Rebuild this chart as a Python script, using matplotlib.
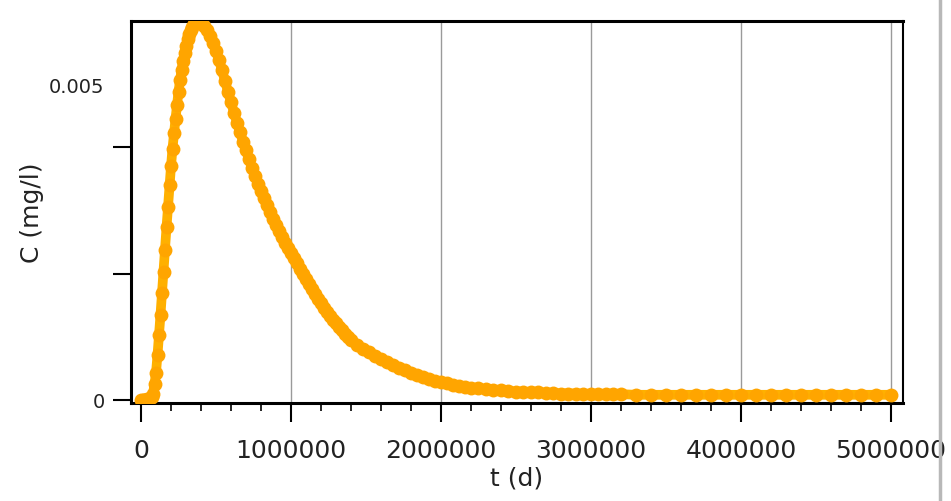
import numpy as np
import matplotlib
matplotlib.use('Agg')
import matplotlib.pyplot as plt
from matplotlib.lines import Line2D
from matplotlib.ticker import MultipleLocator

# breakthrough curve: time in thousands of days, concentration in mg/l
t_kdays = [0, 10, 20, 30, 40, 50, 60, 70, 80, 90,
           100, 110, 120, 130, 140, 150, 160, 170, 180, 190,
           200, 210, 220, 230, 240, 250, 260, 270, 280, 290,
           300, 310, 320, 330, 340, 350, 360, 370, 380, 390,
           400, 420, 440, 460, 480, 500, 520, 540, 560, 580,
           600, 620, 640, 660, 680, 700, 720, 740, 760, 780,
           800, 820, 840, 860, 880, 900, 920, 940, 960, 980,
           1000, 1020, 1040, 1060, 1080, 1100, 1120, 1140, 1160, 1180,
           1200, 1220, 1240, 1260, 1280, 1300, 1320, 1340, 1360, 1380,
           1400, 1440, 1480, 1520, 1560, 1600, 1640, 1680, 1720, 1760,
           1800, 1840, 1880, 1920, 1960, 2000, 2040, 2080, 2120, 2160,
           2200, 2250, 2300, 2350, 2400, 2450, 2500, 2550, 2600, 2650,
           2700, 2750, 2800, 2850, 2900, 2950, 3000, 3050, 3100, 3150,
           3200, 3300, 3400, 3500, 3600, 3700, 3800, 3900, 4000, 4100,
           4200, 4300, 4400, 4500, 4600, 4700, 4800, 4900, 5000]
conc = [0.0, 0.0, 0.0, 0.0, 0.00001, 0.00002, 0.00003, 0.00005, 0.0001, 0.00025,
        0.00043, 0.00071, 0.00103, 0.00135, 0.00170, 0.00203, 0.00238, 0.00273, 0.00306, 0.00340,
        0.00370, 0.00398, 0.00422, 0.00445, 0.00467, 0.00488, 0.00506, 0.00522, 0.00537, 0.00550,
        0.00561, 0.00571, 0.00579, 0.00586, 0.00591, 0.00595, 0.00598, 0.00600, 0.00600, 0.00599,
        0.00597, 0.00592, 0.00585, 0.00576, 0.00565, 0.00552, 0.00538, 0.00522, 0.00505, 0.00488,
        0.00471, 0.00455, 0.00439, 0.00424, 0.00409, 0.00395, 0.00381, 0.00367, 0.00354, 0.00342,
        0.00330, 0.00319, 0.00308, 0.00297, 0.00287, 0.00277, 0.00267, 0.00258, 0.00249, 0.00240,
        0.00232, 0.00224, 0.00216, 0.00207, 0.00199, 0.00191, 0.00183, 0.00175, 0.00167, 0.00160,
        0.00153, 0.00146, 0.00139, 0.00133, 0.00127, 0.00121, 0.00115, 0.00110, 0.00104, 0.00099,
        0.00095, 0.00087, 0.00081, 0.00075, 0.00070, 0.00064, 0.00060, 0.00055, 0.00051, 0.00047,
        0.00043, 0.00040, 0.00036, 0.00033, 0.00030, 0.00028, 0.00026, 0.00024, 0.00022, 0.00020,
        0.00019, 0.00018, 0.00017, 0.00016, 0.00015, 0.00014, 0.00013, 0.00013, 0.00012, 0.00012,
        0.00011, 0.00011, 0.00010, 0.00010, 0.00010, 0.00009, 0.00009, 0.00009, 0.00009, 0.00009,
        0.00009, 0.00008, 0.00008, 0.00008, 0.00008, 0.00008, 0.00008, 0.00008, 0.00008, 0.00008,
        0.00008, 0.00008, 0.00008, 0.00008, 0.00008, 0.00008, 0.00008, 0.00008, 0.00008]

x_ticks = [0, 1000000, 2000000, 3000000, 4000000, 5000000]
x_tick_labels = ['0', '1000000', '2000000', '3000000', '4000000', '5000000']
y_ticks = [0, 0.002, 0.004, 0.005]
y_tick_labels = ['0', '', '', '0.005']

ORANGE = '#FFA500'
GOLD = '#FFB000'

t = np.array(t_kdays) * 1000

fig = plt.figure(figsize=(9.51, 5.02), dpi=100)
ax = fig.add_axes([0.1377, 0.1952, 0.8118, 0.7610])

ax.plot(t, conc, '-', color=GOLD, linewidth=7, solid_capstyle='round', zorder=2)
ax.plot(t, conc, 'o', color=ORANGE, markersize=10, markeredgewidth=0, zorder=3)

ax.set_xlim(-67000, 5080000)
ax.set_ylim(-0.00005, 0.006)

ax.set_xticks(x_ticks)
ax.set_xticklabels(x_tick_labels, fontsize=18, color='#222222')
ax.xaxis.set_minor_locator(MultipleLocator(200000))
ax.set_yticks(y_ticks)
ax.set_yticklabels(y_tick_labels, fontsize=14, color='#222222')
ax.yaxis.get_major_ticks()[3].tick1line.set_visible(False)

ax.tick_params(axis='x', which='major', length=14, width=1.5, direction='out', pad=11)
ax.tick_params(axis='x', which='minor', length=6, width=1.2, direction='out')
ax.tick_params(axis='y', which='major', length=13, width=1.5, direction='out', pad=6)

ax.grid(axis='x', color='#9a9a9a', linewidth=1)
ax.xaxis.get_major_ticks()[0].gridline.set_visible(False)
ax.set_axisbelow(True)

for side in ['left', 'top', 'bottom']:
    ax.spines[side].set_linewidth(2.2)
ax.spines['right'].set_linewidth(1.5)

ax.set_xlabel('t (d)', fontsize=18, labelpad=3, color='#222222')
ax.set_ylabel('C (mg/l)', fontsize=18, labelpad=4, color='#222222')

fig.add_artist(Line2D([940 / 951, 940 / 951], [0, 1], transform=fig.transFigure,
                      color='#b8b8b8', linewidth=2.5))

fig.savefig('out.png', dpi=100)
